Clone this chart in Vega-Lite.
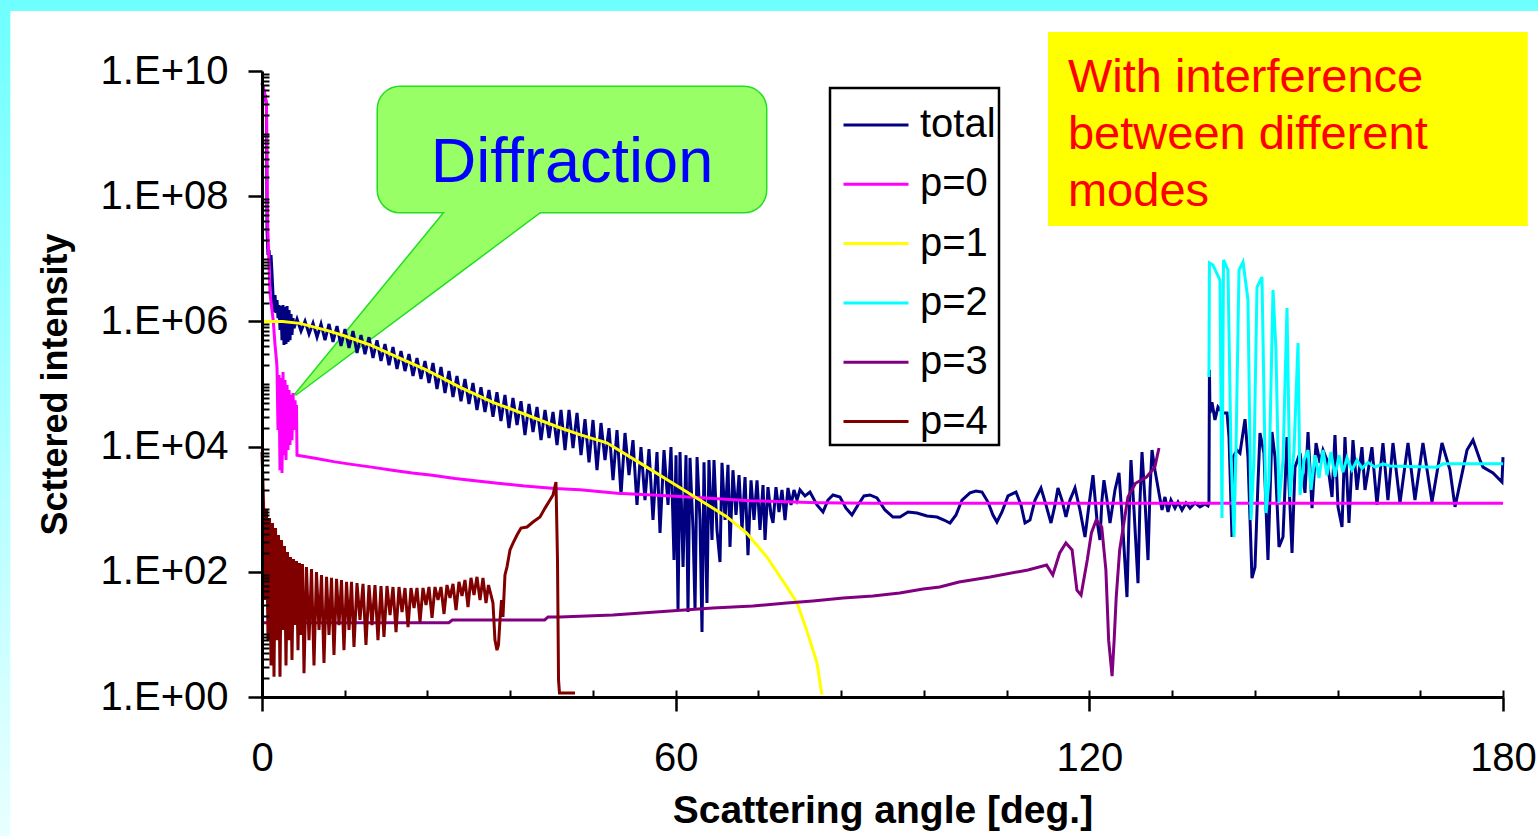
{
"$schema": "https://vega.github.io/schema/vega-lite/v6.json",
"width": 1241, "height": 626,
"autosize": {"type": "none"},
"padding": {"left": 262, "top": 71, "right": 35, "bottom": 139},
"background": "#66FFFF",
"config": {
 "font": "Liberation Sans",
 "view": {"stroke": null},
 "axis": {"domainColor": "black", "tickColor": "black", "labelColor": "black", "titleColor": "black", "grid": false, "zindex": 1},
 "legend": {"strokeWidth": 2.5}
},
"datasets": {
"pointer": [{"angle": 4.79, "top": 6.7e4, "bottom": 6.7e4}, {"angle": 26.54, "top": 5.59e7, "bottom": 4.1e6}, {"angle": 40.32, "top": 5.59e7, "bottom": 5.59e7}],
"curves": [
{"series":"total","angle":0,"intensity":6.4e9},
{"series":"total","angle":0.44,"intensity":4.0e9},
{"series":"total","angle":0.65,"intensity":2.9e9},
{"series":"total","angle":0.73,"intensity":2.9e7},
{"series":"total","angle":0.87,"intensity":1.15e7},
{"series":"total","angle":1.02,"intensity":1.38e7},
{"series":"total","angle":1.16,"intensity":8.0e6},
{"series":"total","angle":1.31,"intensity":1.15e7},
{"series":"total","angle":1.45,"intensity":5.9e6},
{"series":"total","angle":1.60,"intensity":2.64e6},
{"series":"total","angle":1.74,"intensity":1.41e6},
{"series":"total","angle":1.89,"intensity":2.64e6},
{"series":"total","angle":2.03,"intensity":1.36e6},
{"series":"total","angle":2.18,"intensity":2.2e6},
{"series":"total","angle":2.32,"intensity":1.13e6},
{"series":"total","angle":2.47,"intensity":1.83e6},
{"series":"total","angle":2.61,"intensity":7.3e5},
{"series":"total","angle":2.76,"intensity":1.76e6},
{"series":"total","angle":2.90,"intensity":5.0e5},
{"series":"total","angle":3.05,"intensity":1.83e6},
{"series":"total","angle":3.19,"intensity":4.2e5},
{"series":"total","angle":3.34,"intensity":1.7e6},
{"series":"total","angle":3.48,"intensity":4.35e5},
{"series":"total","angle":3.63,"intensity":1.76e6},
{"series":"total","angle":3.77,"intensity":4.7e5},
{"series":"total","angle":3.92,"intensity":1.52e6},
{"series":"total","angle":4.06,"intensity":5.0e5},
{"series":"total","angle":4.21,"intensity":1.31e6},
{"series":"total","angle":4.35,"intensity":6.1e5},
{"series":"total","angle":4.50,"intensity":1.13e6},
{"series":"total","angle":4.64,"intensity":7.8e5},
{"series":"total","angle":5.08,"intensity":1.09e6},
{"series":"total","angle":5.66,"intensity":7.0e5},
{"series":"total","angle":6.24,"intensity":1.01e6},
{"series":"total","angle":6.82,"intensity":6.3e5},
{"series":"total","angle":7.40,"intensity":9.4e5},
{"series":"total","angle":7.98,"intensity":5.6e5},
{"series":"total","angle":8.56,"intensity":9.1e5},
{"series":"total","angle":9.14,"intensity":5.0e5},
{"series":"total","angle":9.72,"intensity":9.1e5},
{"series":"total","angle":10.30,"intensity":4.7e5},
{"series":"total","angle":10.88,"intensity":8.4e5},
{"series":"total","angle":11.46,"intensity":4.05e5},
{"series":"total","angle":12.04,"intensity":7.55e5},
{"series":"total","angle":12.62,"intensity":3.76e5},
{"series":"total","angle":13.20,"intensity":7.0e5},
{"series":"total","angle":13.78,"intensity":3.13e5},
{"series":"total","angle":14.36,"intensity":6.06e5},
{"series":"total","angle":14.94,"intensity":3.0e5},
{"series":"total","angle":15.52,"intensity":5.6e5},
{"series":"total","angle":16.10,"intensity":2.6e5},
{"series":"total","angle":16.68,"intensity":5.0e5},
{"series":"total","angle":17.26,"intensity":2.33e5},
{"series":"total","angle":17.84,"intensity":4.35e5},
{"series":"total","angle":18.42,"intensity":2.0e5},
{"series":"total","angle":19.00,"intensity":3.9e5},
{"series":"total","angle":19.58,"intensity":1.74e5},
{"series":"total","angle":20.16,"intensity":3.37e5},
{"series":"total","angle":20.74,"intensity":1.61e5},
{"series":"total","angle":21.32,"intensity":3.0e5},
{"series":"total","angle":21.90,"intensity":1.34e5},
{"series":"total","angle":22.48,"intensity":2.6e5},
{"series":"total","angle":23.06,"intensity":1.2e5},
{"series":"total","angle":23.64,"intensity":2.33e5},
{"series":"total","angle":24.22,"intensity":1.04e5},
{"series":"total","angle":24.80,"intensity":2.17e5},
{"series":"total","angle":25.38,"intensity":8.3e4},
{"series":"total","angle":25.96,"intensity":1.87e5},
{"series":"total","angle":26.54,"intensity":7.2e4},
{"series":"total","angle":27.12,"intensity":1.61e5},
{"series":"total","angle":27.70,"intensity":6.2e4},
{"series":"total","angle":28.28,"intensity":1.34e5},
{"series":"total","angle":28.86,"intensity":5.3e4},
{"series":"total","angle":29.44,"intensity":1.2e5},
{"series":"total","angle":30.02,"intensity":4.8e4},
{"series":"total","angle":30.60,"intensity":1.04e5},
{"series":"total","angle":31.18,"intensity":3.85e4},
{"series":"total","angle":31.76,"intensity":8.9e4},
{"series":"total","angle":32.34,"intensity":3.57e4},
{"series":"total","angle":32.92,"intensity":8.0e4},
{"series":"total","angle":33.50,"intensity":3.0e4},
{"series":"total","angle":34.08,"intensity":7.4e4},
{"series":"total","angle":34.66,"intensity":2.56e4},
{"series":"total","angle":35.24,"intensity":6.7e4},
{"series":"total","angle":35.82,"intensity":1.97e4},
{"series":"total","angle":36.40,"intensity":6.0e4},
{"series":"total","angle":36.99,"intensity":2.21e4},
{"series":"total","angle":37.57,"intensity":5.3e4},
{"series":"total","angle":38.14,"intensity":1.53e4},
{"series":"total","angle":38.73,"intensity":4.8e4},
{"series":"total","angle":39.31,"intensity":1.71e4},
{"series":"total","angle":39.89,"intensity":4.3e4},
{"series":"total","angle":40.47,"intensity":1.27e4},
{"series":"total","angle":41.05,"intensity":3.85e4},
{"series":"total","angle":41.63,"intensity":1.37e4},
{"series":"total","angle":42.21,"intensity":3.57e4},
{"series":"total","angle":42.79,"intensity":1.06e4},
{"series":"total","angle":43.37,"intensity":3.85e4},
{"series":"total","angle":43.95,"intensity":8.8e3},
{"series":"total","angle":44.53,"intensity":3.85e4},
{"series":"total","angle":45.11,"intensity":9.5e3},
{"series":"total","angle":45.69,"intensity":3.45e4},
{"series":"total","angle":46.27,"intensity":7.3e3},
{"series":"total","angle":46.85,"intensity":2.75e4},
{"series":"total","angle":47.43,"intensity":5.6e3},
{"series":"total","angle":48.01,"intensity":2.66e4},
{"series":"total","angle":48.59,"intensity":4.2e3},
{"series":"total","angle":49.17,"intensity":2.38e4},
{"series":"total","angle":49.75,"intensity":6.1e3},
{"series":"total","angle":50.33,"intensity":1.97e4},
{"series":"total","angle":50.91,"intensity":2.9e3},
{"series":"total","angle":51.49,"intensity":1.84e4},
{"series":"total","angle":52.07,"intensity":1.69e3},
{"series":"total","angle":52.65,"intensity":1.65e4},
{"series":"total","angle":53.23,"intensity":3.5e3},
{"series":"total","angle":53.81,"intensity":1.27e4},
{"series":"total","angle":54.39,"intensity":1.17e3},
{"series":"total","angle":54.97,"intensity":9.8e3},
{"series":"total","angle":55.55,"intensity":1.4e3},
{"series":"total","angle":56.13,"intensity":9.1e3},
{"series":"total","angle":56.71,"intensity":672},
{"series":"total","angle":57.29,"intensity":8.2e3},
{"series":"total","angle":57.73,"intensity":417},
{"series":"total","angle":58.31,"intensity":8.8e3},
{"series":"total","angle":58.89,"intensity":1.17e3},
{"series":"total","angle":59.32,"intensity":9.8e3},
{"series":"total","angle":59.76,"intensity":154},
{"series":"total","angle":60.05,"intensity":7.3e3},
{"series":"total","angle":60.34,"intensity":24.5},
{"series":"total","angle":60.63,"intensity":8.2e3},
{"series":"total","angle":61.07,"intensity":119},
{"series":"total","angle":61.50,"intensity":7.3e3},
{"series":"total","angle":61.79,"intensity":22.8},
{"series":"total","angle":62.08,"intensity":6.6e3},
{"series":"total","angle":62.52,"intensity":465},
{"series":"total","angle":62.81,"intensity":24.5},
{"series":"total","angle":63.10,"intensity":6.8e3},
{"series":"total","angle":63.53,"intensity":672},
{"series":"total","angle":63.82,"intensity":10.9},
{"series":"total","angle":64.11,"intensity":5.6e3},
{"series":"total","angle":64.54,"intensity":31.7},
{"series":"total","angle":64.83,"intensity":6.1e3},
{"series":"total","angle":65.27,"intensity":322},
{"series":"total","angle":65.56,"intensity":6.1e3},
{"series":"total","angle":65.99,"intensity":465},
{"series":"total","angle":66.43,"intensity":143},
{"series":"total","angle":66.72,"intensity":5.5e3},
{"series":"total","angle":67.16,"intensity":672},
{"series":"total","angle":67.59,"intensity":5.1e3},
{"series":"total","angle":67.88,"intensity":250},
{"series":"total","angle":68.31,"intensity":4.2e3},
{"series":"total","angle":68.75,"intensity":808},
{"series":"total","angle":69.19,"intensity":3.5e3},
{"series":"total","angle":69.62,"intensity":465},
{"series":"total","angle":70.06,"intensity":3.27e3},
{"series":"total","angle":70.49,"intensity":185},
{"series":"total","angle":70.93,"intensity":2.9e3},
{"series":"total","angle":71.36,"intensity":672},
{"series":"total","angle":71.80,"intensity":2.9e3},
{"series":"total","angle":72.23,"intensity":465},
{"series":"total","angle":72.67,"intensity":2.43e3},
{"series":"total","angle":72.96,"intensity":322},
{"series":"total","angle":73.39,"intensity":2.25e3},
{"series":"total","angle":73.83,"intensity":808},
{"series":"total","angle":74.12,"intensity":602},
{"series":"total","angle":74.55,"intensity":2.25e3},
{"series":"total","angle":74.99,"intensity":902},
{"series":"total","angle":75.42,"intensity":2.03e3},
{"series":"total","angle":75.86,"intensity":672},
{"series":"total","angle":76.29,"intensity":2.18e3},
{"series":"total","angle":76.73,"intensity":1.17e3},
{"series":"total","angle":77.16,"intensity":2.03e3},
{"series":"total","angle":77.60,"intensity":1.4e3},
{"series":"total","angle":78.03,"intensity":2.03e3},
{"series":"total","angle":78.76,"intensity":1.63e3},
{"series":"total","angle":79.48,"intensity":1.88e3},
{"series":"total","angle":80.50,"intensity":1.17e3},
{"series":"total","angle":81.37,"intensity":902},
{"series":"total","angle":82.09,"intensity":1.4e3},
{"series":"total","angle":82.82,"intensity":1.69e3},
{"series":"total","angle":83.83,"intensity":1.57e3},
{"series":"total","angle":84.70,"intensity":1.04e3},
{"series":"total","angle":85.57,"intensity":808},
{"series":"total","angle":86.44,"intensity":1.17e3},
{"series":"total","angle":87.31,"intensity":1.63e3},
{"series":"total","angle":88.18,"intensity":1.69e3},
{"series":"total","angle":89.20,"intensity":1.51e3},
{"series":"total","angle":90.36,"intensity":971},
{"series":"total","angle":91.52,"intensity":750},
{"series":"total","angle":92.54,"intensity":750},
{"series":"total","angle":93.70,"intensity":902},
{"series":"total","angle":95.00,"intensity":869},
{"series":"total","angle":96.45,"intensity":779},
{"series":"total","angle":97.90,"intensity":750},
{"series":"total","angle":98.92,"intensity":672},
{"series":"total","angle":99.79,"intensity":602},
{"series":"total","angle":100.66,"intensity":808},
{"series":"total","angle":101.53,"intensity":1.4e3},
{"series":"total","angle":102.69,"intensity":1.82e3},
{"series":"total","angle":103.56,"intensity":1.95e3},
{"series":"total","angle":104.43,"intensity":1.88e3},
{"series":"total","angle":105.30,"intensity":1.3e3},
{"series":"total","angle":106.02,"intensity":808},
{"series":"total","angle":106.60,"intensity":624},
{"series":"total","angle":107.33,"intensity":902},
{"series":"total","angle":108.20,"intensity":1.63e3},
{"series":"total","angle":109.36,"intensity":1.88e3},
{"series":"total","angle":110.09,"intensity":1.17e3},
{"series":"total","angle":110.67,"intensity":602},
{"series":"total","angle":111.39,"intensity":672},
{"series":"total","angle":112.12,"intensity":1.4e3},
{"series":"total","angle":112.99,"intensity":2.18e3},
{"series":"total","angle":113.71,"intensity":1.17e3},
{"series":"total","angle":114.44,"intensity":602},
{"series":"total","angle":115.02,"intensity":1.17e3},
{"series":"total","angle":115.45,"intensity":2.18e3},
{"series":"total","angle":116.03,"intensity":1.4e3},
{"series":"total","angle":116.61,"intensity":750},
{"series":"total","angle":117.19,"intensity":1.4e3},
{"series":"total","angle":117.92,"intensity":2.18e3},
{"series":"total","angle":118.64,"intensity":971},
{"series":"total","angle":119.37,"intensity":360},
{"series":"total","angle":119.95,"intensity":1.17e3},
{"series":"total","angle":120.53,"intensity":3.5e3},
{"series":"total","angle":121.11,"intensity":672},
{"series":"total","angle":121.54,"intensity":322},
{"series":"total","angle":121.83,"intensity":1.4e3},
{"series":"total","angle":122.12,"intensity":2.9e3},
{"series":"total","angle":122.56,"intensity":1.4e3},
{"series":"total","angle":123.00,"intensity":602},
{"series":"total","angle":123.72,"intensity":2.03e3},
{"series":"total","angle":124.30,"intensity":3.8e3},
{"series":"total","angle":124.88,"intensity":465},
{"series":"total","angle":125.46,"intensity":39.5},
{"series":"total","angle":125.75,"intensity":672},
{"series":"total","angle":126.04,"intensity":6.1e3},
{"series":"total","angle":126.48,"intensity":971},
{"series":"total","angle":127.06,"intensity":66},
{"series":"total","angle":127.35,"intensity":1.4e3},
{"series":"total","angle":127.64,"intensity":8.2e3},
{"series":"total","angle":128.07,"intensity":1.4e3},
{"series":"total","angle":128.51,"intensity":154},
{"series":"total","angle":128.80,"intensity":2.03e3},
{"series":"total","angle":129.09,"intensity":8.8e3},
{"series":"total","angle":129.52,"intensity":4.2e3},
{"series":"total","angle":130.10,"intensity":1.82e3},
{"series":"total","angle":130.54,"intensity":971},
{"series":"total","angle":130.97,"intensity":1.57e3},
{"series":"total","angle":131.41,"intensity":902},
{"series":"total","angle":131.84,"intensity":1.4e3},
{"series":"total","angle":132.42,"intensity":1.04e3},
{"series":"total","angle":132.86,"intensity":1.3e3},
{"series":"total","angle":133.44,"intensity":971},
{"series":"total","angle":134.02,"intensity":1.26e3},
{"series":"total","angle":134.60,"intensity":1.04e3},
{"series":"total","angle":135.32,"intensity":1.26e3},
{"series":"total","angle":136.05,"intensity":1.09e3},
{"series":"total","angle":136.78,"intensity":1.21e3},
{"series":"total","angle":137.21,"intensity":1.13e3},
{"series":"total","angle":137.35,"intensity":1.26e3},
{"series":"total","angle":137.42,"intensity":1.67e5},
{"series":"total","angle":137.50,"intensity":3.45e4},
{"series":"total","angle":137.79,"intensity":5.1e4},
{"series":"total","angle":138.22,"intensity":2.66e4},
{"series":"total","angle":138.66,"intensity":4.3e4},
{"series":"total","angle":139.39,"intensity":3.45e4},
{"series":"total","angle":139.97,"intensity":3.45e4},
{"series":"total","angle":140.26,"intensity":1.42e4},
{"series":"total","angle":140.69,"intensity":360},
{"series":"total","angle":140.84,"intensity":6.8e3},
{"series":"total","angle":141.42,"intensity":8.8e3},
{"series":"total","angle":141.85,"intensity":7.9e3},
{"series":"total","angle":142.58,"intensity":2.75e4},
{"series":"total","angle":143.01,"intensity":6.8e3},
{"series":"total","angle":143.59,"intensity":79},
{"series":"total","angle":144.03,"intensity":119},
{"series":"total","angle":144.46,"intensity":2.6e3},
{"series":"total","angle":144.75,"intensity":1.65e4},
{"series":"total","angle":145.33,"intensity":7.9e3},
{"series":"total","angle":145.91,"intensity":154},
{"series":"total","angle":146.49,"intensity":1.71e4},
{"series":"total","angle":146.93,"intensity":6.8e3},
{"series":"total","angle":147.51,"intensity":250},
{"series":"total","angle":148.09,"intensity":360},
{"series":"total","angle":148.67,"intensity":1.42e4},
{"series":"total","angle":149.40,"intensity":200},
{"series":"total","angle":149.83,"intensity":4.7e3},
{"series":"total","angle":150.56,"intensity":7.9e3},
{"series":"total","angle":151.28,"intensity":1.82e3},
{"series":"total","angle":151.72,"intensity":1.71e4},
{"series":"total","angle":152.30,"intensity":1.04e3},
{"series":"total","angle":152.88,"intensity":1.14e4},
{"series":"total","angle":153.46,"intensity":5.5e3},
{"series":"total","angle":153.89,"intensity":8.8e3},
{"series":"total","angle":154.47,"intensity":6.1e3},
{"series":"total","angle":155.20,"intensity":1.57e3},
{"series":"total","angle":155.63,"intensity":1.53e4},
{"series":"total","angle":156.07,"intensity":1.09e3},
{"series":"total","angle":156.65,"intensity":520},
{"series":"total","angle":157.08,"intensity":1.42e4},
{"series":"total","angle":157.66,"intensity":602},
{"series":"total","angle":158.24,"intensity":1.27e4},
{"series":"total","angle":158.82,"intensity":2.03e3},
{"series":"total","angle":159.54,"intensity":9.8e3},
{"series":"total","angle":159.98,"intensity":2.03e3},
{"series":"total","angle":160.99,"intensity":9.8e3},
{"series":"total","angle":161.72,"intensity":1.17e3},
{"series":"total","angle":162.59,"intensity":1.14e4},
{"series":"total","angle":163.31,"intensity":1.4e3},
{"series":"total","angle":164.04,"intensity":1.14e4},
{"series":"total","angle":165.06,"intensity":1.26e3},
{"series":"total","angle":166.22,"intensity":1.14e4},
{"series":"total","angle":167.23,"intensity":1.4e3},
{"series":"total","angle":168.39,"intensity":1.14e4},
{"series":"total","angle":169.70,"intensity":1.3e3},
{"series":"total","angle":171.15,"intensity":1.14e4},
{"series":"total","angle":172.31,"intensity":4.2e3},
{"series":"total","angle":173.04,"intensity":1.09e3},
{"series":"total","angle":174.78,"intensity":8.8e3},
{"series":"total","angle":175.65,"intensity":1.27e4},
{"series":"total","angle":176.66,"intensity":6.1e3},
{"series":"total","angle":177.10,"intensity":4.7e3},
{"series":"total","angle":178.55,"intensity":3.8e3},
{"series":"total","angle":179.85,"intensity":2.72e3},
{"series":"total","angle":180,"intensity":6.8e3},
{"series":"p=0","angle":0,"intensity":6.4e9},
{"series":"p=0","angle":0.29,"intensity":5.0e9},
{"series":"p=0","angle":0.65,"intensity":3.1e9},
{"series":"p=0","angle":0.77,"intensity":8.7e7},
{"series":"p=0","angle":0.83,"intensity":3.2e7},
{"series":"p=0","angle":1.16,"intensity":2.84e6},
{"series":"p=0","angle":1.64,"intensity":1.0e6},
{"series":"p=0","angle":1.89,"intensity":4.2e5},
{"series":"p=0","angle":2.10,"intensity":2.4e5},
{"series":"p=0","angle":2.18,"intensity":1.8e5},
{"series":"p=0","angle":2.32,"intensity":1.84e4},
{"series":"p=0","angle":2.47,"intensity":1.39e5},
{"series":"p=0","angle":2.61,"intensity":4.2e3},
{"series":"p=0","angle":2.76,"intensity":1.25e5},
{"series":"p=0","angle":2.90,"intensity":3.8e3},
{"series":"p=0","angle":3.05,"intensity":1.56e5},
{"series":"p=0","angle":3.19,"intensity":7.3e3},
{"series":"p=0","angle":3.34,"intensity":1.16e5},
{"series":"p=0","angle":3.48,"intensity":6.1e3},
{"series":"p=0","angle":3.63,"intensity":9.6e4},
{"series":"p=0","angle":3.77,"intensity":8.8e3},
{"series":"p=0","angle":3.92,"intensity":8.0e4},
{"series":"p=0","angle":4.06,"intensity":1.06e4},
{"series":"p=0","angle":4.21,"intensity":6.7e4},
{"series":"p=0","angle":4.35,"intensity":1.27e4},
{"series":"p=0","angle":4.50,"intensity":7.2e4},
{"series":"p=0","angle":4.64,"intensity":1.84e4},
{"series":"p=0","angle":4.79,"intensity":5.5e4},
{"series":"p=0","angle":4.93,"intensity":2.2e4},
{"series":"p=0","angle":5.00,"intensity":4.6e4},
{"series":"p=0","angle":5.08,"intensity":7.3e3},
{"series":"p=0","angle":7.7,"intensity":6.5e3},
{"series":"p=0","angle":10.6,"intensity":5.7e3},
{"series":"p=0","angle":13.0,"intensity":5.2e3},
{"series":"p=0","angle":15.9,"intensity":4.7e3},
{"series":"p=0","angle":18.9,"intensity":4.2e3},
{"series":"p=0","angle":21.8,"intensity":3.8e3},
{"series":"p=0","angle":24.7,"intensity":3.5e3},
{"series":"p=0","angle":28.0,"intensity":3.1e3},
{"series":"p=0","angle":30.9,"intensity":2.85e3},
{"series":"p=0","angle":34.2,"intensity":2.6e3},
{"series":"p=0","angle":38.1,"intensity":2.35e3},
{"series":"p=0","angle":42.5,"intensity":2.15e3},
{"series":"p=0","angle":46.1,"intensity":2.05e3},
{"series":"p=0","angle":51.5,"intensity":1.8e3},
{"series":"p=0","angle":56.7,"intensity":1.69e3},
{"series":"p=0","angle":62.5,"intensity":1.55e3},
{"series":"p=0","angle":70.8,"intensity":1.37e3},
{"series":"p=0","angle":80.5,"intensity":1.27e3},
{"series":"p=0","angle":88.6,"intensity":1.24e3},
{"series":"p=0","angle":180,"intensity":1.24e3},
{"series":"p=1","angle":0,"intensity":1.0e6},
{"series":"p=1","angle":3.0,"intensity":1.0e6},
{"series":"p=1","angle":5.5,"intensity":9.3e5},
{"series":"p=1","angle":9.4,"intensity":7.2e5},
{"series":"p=1","angle":11.7,"intensity":6.0e5},
{"series":"p=1","angle":15.7,"intensity":4.2e5},
{"series":"p=1","angle":19.0,"intensity":2.9e5},
{"series":"p=1","angle":23.9,"intensity":1.66e5},
{"series":"p=1","angle":28.7,"intensity":8.9e4},
{"series":"p=1","angle":33.5,"intensity":5.1e4},
{"series":"p=1","angle":38.4,"intensity":3.2e4},
{"series":"p=1","angle":43.2,"intensity":2.0e4},
{"series":"p=1","angle":46.1,"intensity":1.55e4},
{"series":"p=1","angle":50.0,"intensity":1.15e4},
{"series":"p=1","angle":54.8,"intensity":5.5e3},
{"series":"p=1","angle":59.6,"intensity":2.6e3},
{"series":"p=1","angle":63.5,"intensity":1.4e3},
{"series":"p=1","angle":67.4,"intensity":760},
{"series":"p=1","angle":70.3,"intensity":417},
{"series":"p=1","angle":73.2,"intensity":174},
{"series":"p=1","angle":76.1,"intensity":58},
{"series":"p=1","angle":77.6,"intensity":32},
{"series":"p=1","angle":79.0,"intensity":11.7},
{"series":"p=1","angle":80.5,"intensity":3.5},
{"series":"p=1","angle":81.2,"intensity":1.1},
{"series":"p=2","angle":137.35,"intensity":1.29e5},
{"series":"p=2","angle":137.42,"intensity":8.6e6},
{"series":"p=2","angle":137.93,"intensity":7.96e6},
{"series":"p=2","angle":138.95,"intensity":4.58e6},
{"series":"p=2","angle":139.24,"intensity":723},
{"series":"p=2","angle":139.46,"intensity":9.6e6},
{"series":"p=2","angle":140.11,"intensity":6.62e6},
{"series":"p=2","angle":140.54,"intensity":8.8e3},
{"series":"p=2","angle":140.98,"intensity":360},
{"series":"p=2","angle":141.27,"intensity":8.8e3},
{"series":"p=2","angle":141.71,"intensity":6.62e6},
{"series":"p=2","angle":142.29,"intensity":8.9e6},
{"series":"p=2","angle":143.01,"intensity":2.2e6},
{"series":"p=2","angle":143.45,"intensity":672},
{"series":"p=2","angle":143.88,"intensity":6.1e3},
{"series":"p=2","angle":144.32,"intensity":3.54e6},
{"series":"p=2","angle":145.04,"intensity":5.1e6},
{"series":"p=2","angle":145.62,"intensity":869},
{"series":"p=2","angle":146.06,"intensity":2.9e3},
{"series":"p=2","angle":146.64,"intensity":3.17e6},
{"series":"p=2","angle":147.07,"intensity":3.49e5},
{"series":"p=2","angle":147.51,"intensity":1.26e3},
{"series":"p=2","angle":148.09,"intensity":6.1e3},
{"series":"p=2","angle":148.67,"intensity":1.64e6},
{"series":"p=2","angle":149.11,"intensity":1.57e3},
{"series":"p=2","angle":149.69,"intensity":8.8e3},
{"series":"p=2","angle":150.27,"intensity":4.5e5},
{"series":"p=2","angle":150.56,"intensity":1.69e3},
{"series":"p=2","angle":151.14,"intensity":6.1e3},
{"series":"p=2","angle":151.72,"intensity":8.8e3},
{"series":"p=2","angle":152.15,"intensity":2.03e3},
{"series":"p=2","angle":152.73,"intensity":7.3e3},
{"series":"p=2","angle":153.31,"intensity":3.15e3},
{"series":"p=2","angle":153.89,"intensity":8.8e3},
{"series":"p=2","angle":154.47,"intensity":3.5e3},
{"series":"p=2","angle":155.05,"intensity":8.2e3},
{"series":"p=2","angle":155.63,"intensity":3.3e3},
{"series":"p=2","angle":156.21,"intensity":7.3e3},
{"series":"p=2","angle":156.79,"intensity":3.9e3},
{"series":"p=2","angle":157.37,"intensity":6.6e3},
{"series":"p=2","angle":158.09,"intensity":4.2e3},
{"series":"p=2","angle":158.82,"intensity":6.1e3},
{"series":"p=2","angle":159.54,"intensity":4.5e3},
{"series":"p=2","angle":160.41,"intensity":5.6e3},
{"series":"p=2","angle":161.43,"intensity":4.7e3},
{"series":"p=2","angle":162.59,"intensity":5.3e3},
{"series":"p=2","angle":163.61,"intensity":4.9e3},
{"series":"p=2","angle":170.43,"intensity":4.7e3},
{"series":"p=2","angle":171.30,"intensity":5.3e3},
{"series":"p=2","angle":180,"intensity":5.3e3},
{"series":"p=3","angle":0,"intensity":15.4},
{"series":"p=3","angle":27.1,"intensity":15.4},
{"series":"p=3","angle":27.6,"intensity":17.0},
{"series":"p=3","angle":41.0,"intensity":17.0},
{"series":"p=3","angle":41.5,"intensity":19.0},
{"series":"p=3","angle":43.2,"intensity":19.0},
{"series":"p=3","angle":50.9,"intensity":20.4},
{"series":"p=3","angle":59.2,"intensity":23.7},
{"series":"p=3","angle":65.4,"intensity":26.5},
{"series":"p=3","angle":71.2,"intensity":28.4},
{"series":"p=3","angle":76.1,"intensity":31.7},
{"series":"p=3","angle":79.9,"intensity":34.2},
{"series":"p=3","angle":84.3,"intensity":38.1},
{"series":"p=3","angle":88.6,"intensity":41.0},
{"series":"p=3","angle":92.5,"intensity":45.8},
{"series":"p=3","angle":95.9,"intensity":53.1},
{"series":"p=3","angle":98.3,"intensity":57.2},
{"series":"p=3","angle":101.1,"intensity":68.7},
{"series":"p=3","angle":105.6,"intensity":82.6},
{"series":"p=3","angle":111.1,"intensity":107},
{"series":"p=3","angle":113.8,"intensity":128},
{"series":"p=3","angle":114.7,"intensity":89},
{"series":"p=3","angle":115.7,"intensity":200},
{"series":"p=3","angle":116.6,"intensity":288},
{"series":"p=3","angle":117.5,"intensity":223},
{"series":"p=3","angle":118.2,"intensity":51},
{"series":"p=3","angle":118.8,"intensity":42.6},
{"series":"p=3","angle":119.7,"intensity":154},
{"series":"p=3","angle":120.3,"intensity":417},
{"series":"p=3","angle":121.0,"intensity":672},
{"series":"p=3","angle":121.8,"intensity":520},
{"series":"p=3","angle":122.4,"intensity":107},
{"series":"p=3","angle":122.8,"intensity":8.1},
{"series":"p=3","angle":123.3,"intensity":2.16},
{"series":"p=3","angle":123.6,"intensity":8.1},
{"series":"p=3","angle":123.9,"intensity":39.5},
{"series":"p=3","angle":124.4,"intensity":223},
{"series":"p=3","angle":125.6,"intensity":1.57e3},
{"series":"p=3","angle":126.7,"intensity":2.6e3},
{"series":"p=3","angle":128.3,"intensity":3.27e3},
{"series":"p=3","angle":129.5,"intensity":4.7e3},
{"series":"p=3","angle":130.1,"intensity":9.5e3},
{"series":"p=4","angle":0,"intensity":8200},
{"series":"p=4","angle":0.22,"intensity":1260},
{"series":"p=4","angle":0.44,"intensity":35.4},
{"series":"p=4","angle":0.65,"intensity":971},
{"series":"p=4","angle":0.87,"intensity":8.1},
{"series":"p=4","angle":1.09,"intensity":723},
{"series":"p=4","angle":1.31,"intensity":3.2},
{"series":"p=4","angle":1.52,"intensity":602},
{"series":"p=4","angle":1.74,"intensity":2.1},
{"series":"p=4","angle":1.96,"intensity":501},
{"series":"p=4","angle":2.18,"intensity":8.1},
{"series":"p=4","angle":2.39,"intensity":387},
{"series":"p=4","angle":2.61,"intensity":2.1},
{"series":"p=4","angle":2.83,"intensity":322},
{"series":"p=4","angle":3.05,"intensity":11.8},
{"series":"p=4","angle":3.26,"intensity":258},
{"series":"p=4","angle":3.48,"intensity":3.2},
{"series":"p=4","angle":3.70,"intensity":207},
{"series":"p=4","angle":3.92,"intensity":8.1},
{"series":"p=4","angle":4.13,"intensity":172},
{"series":"p=4","angle":4.35,"intensity":3.9},
{"series":"p=4","angle":4.57,"intensity":160},
{"series":"p=4","angle":4.79,"intensity":14.1},
{"series":"p=4","angle":5.00,"intensity":149},
{"series":"p=4","angle":5.22,"intensity":5.6},
{"series":"p=4","angle":5.44,"intensity":138},
{"series":"p=4","angle":5.66,"intensity":9.8},
{"series":"p=4","angle":5.87,"intensity":133},
{"series":"p=4","angle":6.09,"intensity":2.4},
{"series":"p=4","angle":6.45,"intensity":119},
{"series":"p=4","angle":6.82,"intensity":8.1},
{"series":"p=4","angle":7.18,"intensity":111},
{"series":"p=4","angle":7.54,"intensity":3.2},
{"series":"p=4","angle":7.90,"intensity":99},
{"series":"p=4","angle":8.27,"intensity":11.8},
{"series":"p=4","angle":8.63,"intensity":89},
{"series":"p=4","angle":8.99,"intensity":3.5},
{"series":"p=4","angle":9.36,"intensity":83},
{"series":"p=4","angle":9.72,"intensity":9.8},
{"series":"p=4","angle":10.08,"intensity":80},
{"series":"p=4","angle":10.44,"intensity":4.7},
{"series":"p=4","angle":10.81,"intensity":77},
{"series":"p=4","angle":11.17,"intensity":14.1},
{"series":"p=4","angle":11.53,"intensity":74},
{"series":"p=4","angle":11.89,"intensity":5.6},
{"series":"p=4","angle":12.26,"intensity":69},
{"series":"p=4","angle":12.62,"intensity":11.8},
{"series":"p=4","angle":12.98,"intensity":69},
{"series":"p=4","angle":13.34,"intensity":6.3},
{"series":"p=4","angle":13.78,"intensity":66},
{"series":"p=4","angle":14.21,"intensity":17.0},
{"series":"p=4","angle":14.65,"intensity":64},
{"series":"p=4","angle":15.08,"intensity":6.8},
{"series":"p=4","angle":15.52,"intensity":61.5},
{"series":"p=4","angle":15.95,"intensity":14.1},
{"series":"p=4","angle":16.39,"intensity":61.5},
{"series":"p=4","angle":16.82,"intensity":8.1},
{"series":"p=4","angle":17.26,"intensity":59.3},
{"series":"p=4","angle":17.69,"intensity":9.1},
{"series":"p=4","angle":18.13,"intensity":59.3},
{"series":"p=4","angle":18.57,"intensity":20.4},
{"series":"p=4","angle":19.00,"intensity":57.2},
{"series":"p=4","angle":19.44,"intensity":10.9},
{"series":"p=4","angle":19.87,"intensity":57.2},
{"series":"p=4","angle":20.31,"intensity":22.8},
{"series":"p=4","angle":20.74,"intensity":55.1},
{"series":"p=4","angle":21.18,"intensity":13.1},
{"series":"p=4","angle":21.61,"intensity":55.1},
{"series":"p=4","angle":22.05,"intensity":26.4},
{"series":"p=4","angle":22.48,"intensity":55.1},
{"series":"p=4","angle":22.92,"intensity":15.8},
{"series":"p=4","angle":23.35,"intensity":55.1},
{"series":"p=4","angle":23.79,"intensity":29.5},
{"series":"p=4","angle":24.22,"intensity":57.2},
{"series":"p=4","angle":24.66,"intensity":18.3},
{"series":"p=4","angle":25.09,"intensity":57.2},
{"series":"p=4","angle":25.53,"intensity":35.4},
{"series":"p=4","angle":25.96,"intensity":57.2},
{"series":"p=4","angle":26.40,"intensity":21.2},
{"series":"p=4","angle":26.83,"intensity":61.5},
{"series":"p=4","angle":27.27,"intensity":38.1},
{"series":"p=4","angle":27.70,"intensity":64},
{"series":"p=4","angle":28.14,"intensity":24.5},
{"series":"p=4","angle":28.57,"intensity":69},
{"series":"p=4","angle":29.01,"intensity":41.0},
{"series":"p=4","angle":29.44,"intensity":74},
{"series":"p=4","angle":29.88,"intensity":27.4},
{"series":"p=4","angle":30.31,"intensity":80},
{"series":"p=4","angle":30.75,"intensity":42.6},
{"series":"p=4","angle":31.18,"intensity":83},
{"series":"p=4","angle":31.62,"intensity":35.4},
{"series":"p=4","angle":32.05,"intensity":80},
{"series":"p=4","angle":32.49,"intensity":31.7},
{"series":"p=4","angle":32.85,"intensity":61.5},
{"series":"p=4","angle":33.22,"intensity":42.6},
{"series":"p=4","angle":33.50,"intensity":31.7},
{"series":"p=4","angle":33.79,"intensity":8.1},
{"series":"p=4","angle":34.08,"intensity":5.6},
{"series":"p=4","angle":34.30,"intensity":6.8},
{"series":"p=4","angle":34.52,"intensity":17.0},
{"series":"p=4","angle":34.74,"intensity":35.4},
{"series":"p=4","angle":34.95,"intensity":19.0},
{"series":"p=4","angle":35.24,"intensity":89},
{"series":"p=4","angle":35.53,"intensity":119},
{"series":"p=4","angle":35.97,"intensity":223},
{"series":"p=4","angle":36.41,"intensity":288},
{"series":"p=4","angle":36.99,"intensity":387},
{"series":"p=4","angle":37.57,"intensity":501},
{"series":"p=4","angle":38.44,"intensity":520},
{"series":"p=4","angle":39.31,"intensity":624},
{"series":"p=4","angle":40.32,"intensity":750},
{"series":"p=4","angle":41.05,"intensity":1040},
{"series":"p=4","angle":41.77,"intensity":1400},
{"series":"p=4","angle":42.21,"intensity":1690},
{"series":"p=4","angle":42.50,"intensity":2350},
{"series":"p=4","angle":42.64,"intensity":2720},
{"series":"p=4","angle":42.86,"intensity":154},
{"series":"p=4","angle":43.01,"intensity":1.87},
{"series":"p=4","angle":43.15,"intensity":1.16},
{"series":"p=4","angle":45.40,"intensity":1.16}
]
},
"resolve": {"axis": {"x": "independent", "y": "independent"}},
"layer": [
{"data": {"values": [{}]},
 "mark": {"type": "rect", "fill": {"gradient": "linear", "x1": 0, "y1": 0, "x2": 0, "y2": 1, "stops": [{"offset": 0, "color": "#66FFFF"}, {"offset": 1, "color": "#F0FFFF"}]}},
 "encoding": {
  "x": {"datum": -40, "type": "quantitative", "scale": {"domain": [0, 180], "nice": false, "zero": false}, "axis": null},
  "x2": {"datum": 190},
  "y": {"datum": 1e12, "type": "quantitative", "scale": {"type": "log", "domain": [1, 1e10], "nice": false}, "axis": null},
  "y2": {"datum": 0.001}}},
{"data": {"values": [{}]},
 "mark": {"type": "rect", "fill": "white"},
 "encoding": {
  "x": {"datum": -36.5, "type": "quantitative", "scale": {"domain": [0, 180], "nice": false, "zero": false}, "axis": null},
  "x2": {"datum": 190},
  "y": {"datum": 9.08e10, "type": "quantitative", "scale": {"type": "log", "domain": [1, 1e10], "nice": false}, "axis": null},
  "y2": {"datum": 0.001}}},
{"data": {"values": [{}]},
 "mark": {"type": "rect", "fill": "#FFFF00"},
 "encoding": {
  "x": {"datum": 114.0, "type": "quantitative", "scale": {"domain": [0, 180], "nice": false, "zero": false}, "axis": null},
  "x2": {"datum": 183.6},
  "y": {"datum": 4.2e10, "type": "quantitative", "scale": {"type": "log", "domain": [1, 1e10], "nice": false}, "axis": null},
  "y2": {"datum": 3.34e7}}},
{"data": {"values": [{}]},
 "mark": {"type": "text", "text": ["With interference", "between different", "modes"], "align": "left", "baseline": "alphabetic", "fontSize": 47, "lineHeight": 57, "fill": "#FF0000", "font": "Liberation Sans"},
 "encoding": {
  "x": {"datum": 116.9, "type": "quantitative", "scale": {"domain": [0, 180], "nice": false, "zero": false}, "axis": null},
  "y": {"datum": 4.67e9, "type": "quantitative", "scale": {"type": "log", "domain": [1, 1e10], "nice": false}, "axis": null}}},
{"data": {"values": [{}]},
 "mark": {"type": "rect", "filled": false, "stroke": "#22DD22", "strokeWidth": 3, "cornerRadius": 22},
 "encoding": {
  "x": {"datum": 16.82, "type": "quantitative", "scale": {"domain": [0, 180], "nice": false, "zero": false}, "axis": null},
  "x2": {"datum": 73.1},
  "y": {"datum": 5.55e9, "type": "quantitative", "scale": {"type": "log", "domain": [1, 1e10], "nice": false}, "axis": null},
  "y2": {"datum": 5.59e7}}},
{"data": {"name": "pointer"},
 "mark": {"type": "area", "fill": "#99FF66", "fillOpacity": 0, "stroke": "#22DD22", "strokeWidth": 3},
 "encoding": {
  "x": {"field": "angle", "type": "quantitative", "scale": {"domain": [0, 180], "nice": false, "zero": false}, "axis": null},
  "y": {"field": "top", "type": "quantitative", "scale": {"type": "log", "domain": [1, 1e10], "nice": false}, "axis": null},
  "y2": {"field": "bottom"}}},
{"data": {"values": [{}]},
 "mark": {"type": "rect", "fill": "#99FF66", "strokeWidth": 0, "cornerRadius": 22},
 "encoding": {
  "x": {"datum": 16.82, "type": "quantitative", "scale": {"domain": [0, 180], "nice": false, "zero": false}, "axis": null},
  "x2": {"datum": 73.1},
  "y": {"datum": 5.55e9, "type": "quantitative", "scale": {"type": "log", "domain": [1, 1e10], "nice": false}, "axis": null},
  "y2": {"datum": 5.59e7}}},
{"data": {"name": "pointer"},
 "mark": {"type": "area", "fill": "#99FF66", "strokeWidth": 0},
 "encoding": {
  "x": {"field": "angle", "type": "quantitative", "scale": {"domain": [0, 180], "nice": false, "zero": false}, "axis": null},
  "y": {"field": "top", "type": "quantitative", "scale": {"type": "log", "domain": [1, 1e10], "nice": false}, "axis": null},
  "y2": {"field": "bottom"}}},
{"data": {"values": [{}]},
 "mark": {"type": "text", "text": "Diffraction", "align": "center", "baseline": "alphabetic", "fontSize": 63, "fill": "#0000FF", "font": "Liberation Sans"},
 "encoding": {
  "x": {"datum": 44.96, "type": "quantitative", "scale": {"domain": [0, 180], "nice": false, "zero": false}, "axis": null},
  "y": {"datum": 1.69e8, "type": "quantitative", "scale": {"type": "log", "domain": [1, 1e10], "nice": false}, "axis": null}}},
{"data": {"values": [{}]},
 "mark": {"type": "point", "opacity": 0, "size": 0},
 "encoding": {
  "x": {"datum": 0, "type": "quantitative", "scale": {"domain": [0, 180], "nice": false, "zero": false},
   "axis": {"orient": "bottom", "values": [0,12,24,36,48,60,72,84,96,108,120,132,144,156,168,180], "tickSize": -7, "tickWidth": 2, "labels": false, "domain": false, "title": null, "zindex": 1}},
  "y": {"datum": 1, "type": "quantitative", "scale": {"type": "log", "domain": [1, 1e10], "nice": false},
   "axis": {"orient": "left", "values": [2,3,4,5,6,7,8,9,10,20,30,40,50,60,70,80,90,200,300,400,500,600,700,800,900,1000,2000,3000,4000,5000,6000,7000,8000,9000,2e4,3e4,4e4,5e4,6e4,7e4,8e4,9e4,1e5,2e5,3e5,4e5,5e5,6e5,7e5,8e5,9e5,2e6,3e6,4e6,5e6,6e6,7e6,8e6,9e6,1e7,2e7,3e7,4e7,5e7,6e7,7e7,8e7,9e7,2e8,3e8,4e8,5e8,6e8,7e8,8e8,9e8,1e9,2e9,3e9,4e9,5e9,6e9,7e9,8e9,9e9], "tickSize": -7, "tickWidth": 2, "labels": false, "domain": false, "title": null, "zindex": 1}}}},
{"data": {"name": "curves"},
 "mark": {"type": "line", "strokeWidth": 3},
 "encoding": {
  "x": {"field": "angle", "type": "quantitative", "scale": {"domain": [0, 180], "nice": false, "zero": false},
   "axis": {"orient": "bottom", "values": [0, 60, 120, 180], "tickSize": 14, "tickWidth": 2.5, "domainWidth": 3, "labelFontSize": 40, "labelPadding": 27, "labelFlush": false, "labelOverlap": false, "title": "Scattering angle [deg.]", "titleFontSize": 39, "titleFontWeight": "bold", "titlePadding": 13, "zindex": 1}},
  "y": {"field": "intensity", "type": "quantitative", "scale": {"type": "log", "domain": [1, 1e10], "nice": false},
   "axis": {"orient": "left", "values": [1, 100, 10000, 1e6, 1e8, 1e10], "tickSize": 14, "tickWidth": 2.5, "domainWidth": 3, "labelFontSize": 40, "labelPadding": 20, "labelOverlap": false, "labelExpr": "'1.E+' + (round(log(datum.value)/LN10) < 10 ? '0' : '') + round(log(datum.value)/LN10)", "title": "Scttered intensity", "titleFontSize": 36, "titleFontWeight": "bold", "titlePadding": 26, "zindex": 1}},
  "color": {"field": "series", "type": "nominal",
   "scale": {"domain": ["total", "p=0", "p=1", "p=2", "p=3", "p=4"], "range": ["#000080", "#FF00FF", "#FFFF00", "#00FFFF", "#800080", "#800000"]},
   "legend": {"orient": "none", "legendX": 568, "legendY": 17, "title": null, "symbolType": "stroke", "symbolSize": 4225, "symbolStrokeWidth": 3, "labelFontSize": 40, "labelFont": "Liberation Sans", "labelOffset": 10, "padding": 3, "rowPadding": 5.3, "strokeColor": "black", "fillColor": "white", "symbolOffset": 9}}}}
]
}
